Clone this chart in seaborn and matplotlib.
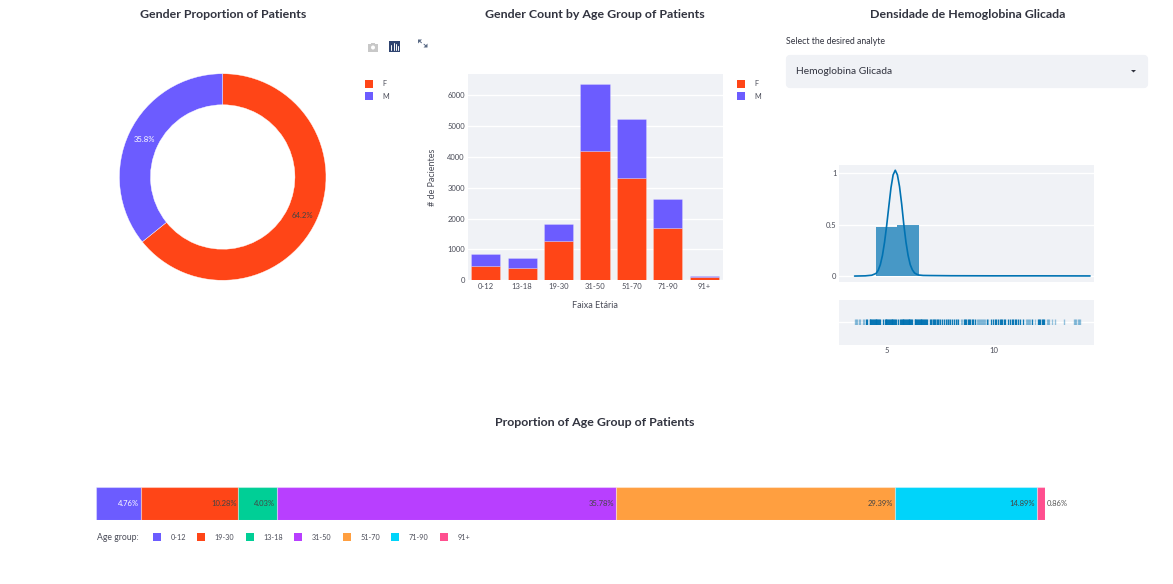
import pandas as pd
import matplotlib.pyplot as plt
from matplotlib.patches import FancyBboxPatch, Rectangle, Circle, Polygon
import seaborn as sns

# gender donut
genders = ['F', 'M']
gender_share = [64.2, 35.8]

# gender count per age group
age_groups = ['0-12', '13-18', '19-30', '31-50', '51-70', '71-90', '91+']
female_counts = [450, 390, 1280, 4190, 3305, 1685, 100]
male_counts = [400, 335, 545, 2170, 1920, 965, 50]
bar_yticks = [0, 1000, 2000, 3000, 4000, 5000, 6000]

# age group proportion
prop_groups = ['0-12', '19-30', '13-18', '31-50', '51-70', '71-90', '91+']
prop_values = [4.76, 10.28, 4.03, 35.78, 29.39, 14.89, 0.86]
prop_colors = ['#6C5CFF', '#FF4517', '#00CF96', '#B83FFF', '#FF9F40', '#00D4FA', '#FF4F8F']

# hemoglobin density
hist_edges = [3.5, 4.5, 5.5, 6.5, 7.5, 8.5, 9.5, 10.5, 11.5, 12.5, 13.5, 14.5]
hist_centers = [4, 5, 6, 7, 8, 9, 10, 11, 12, 13, 14]
hist_heights = [0.004, 0.482, 0.493, 0.012, 0.008, 0.002, 0.002, 0.002, 0.004, 0.004, 0.001]
kde_x = [3.5, 4.0, 4.3, 4.5, 4.6, 4.7, 4.8, 4.9, 5.0, 5.1, 5.2, 5.3, 5.4, 5.5, 5.6,
         5.7, 5.8, 5.9, 6.0, 6.1, 6.2, 6.3, 6.4, 6.5, 6.7, 7.0, 8.0, 10.0, 12.0, 14.5]
kde_y = [0.0, 0.002, 0.008, 0.025, 0.055, 0.11, 0.2, 0.33, 0.495, 0.68, 0.86, 0.985, 1.03, 0.985, 0.87,
         0.7, 0.5, 0.33, 0.2, 0.11, 0.06, 0.03, 0.018, 0.01, 0.006, 0.005, 0.003, 0.002, 0.002, 0.001]
rug_light = [3.5, 3.55, 3.6, 3.7, 3.75, 3.9, 3.95, 7.1, 7.3, 7.45, 7.8, 7.9, 8.3, 8.45, 8.5,
             9.2, 9.25, 9.3, 9.35, 9.4, 9.45, 9.5, 9.55, 9.6, 9.75, 11.5, 11.55, 11.6, 11.65, 11.7, 11.93,
             12.5, 12.55, 12.6, 12.72, 12.85, 13.3, 13.76, 13.8, 13.85, 13.95, 14.0, 14.05]
rug_dark = [4.03, 4.1, 4.2, 4.24, 4.28, 4.32, 4.36, 4.4, 4.44, 4.48, 4.52, 4.56, 4.6, 4.64, 4.7,
            4.83, 4.91, 4.95, 4.99, 5.03, 5.07, 5.11, 5.15, 5.19, 5.23, 5.27, 5.31, 5.35, 5.39, 5.44,
            5.52, 5.62, 5.66, 5.7, 5.74, 5.78, 5.82, 5.86, 5.9, 5.94, 5.98, 6.02, 6.06, 6.1, 6.14, 6.18,
            6.3, 6.34, 6.38, 6.42, 6.46, 6.5, 6.54, 6.58, 6.62, 6.66, 6.7, 6.74, 6.78, 6.82, 6.9,
            7.0, 7.05, 7.15, 7.2, 7.25, 7.35, 7.4, 7.5, 7.6, 7.67, 7.77, 7.85, 7.95, 8.05, 8.15, 8.25, 8.35,
            8.6, 8.66, 8.72, 8.78, 8.84, 8.9, 8.97, 9.03, 9.12, 9.7, 9.85, 9.95, 10.05, 10.1, 10.2, 10.3, 10.35,
            10.4, 10.5, 10.55, 10.65, 10.75, 10.85, 10.9, 11.0, 11.05, 11.13, 11.25, 11.35, 11.8,
            12.07, 12.12, 12.17, 12.25, 12.3, 12.35]
rug_ticks = [5, 10]
density_yticks = [0, 0.5, 1]
density_ylabels = ['0', '0.5', '1']

F_COLOR = '#FF4517'
M_COLOR = '#6C5CFF'
PANEL = '#F0F2F6'
TITLE_C = '#31333F'
TEXT_C = '#4A4C58'
BLUE = '#0072B2'

sns.set_theme(style='white')
plt.rcParams['font.family'] = ['Lato', 'DejaVu Sans']

W, H = 1173, 584
fig = plt.figure(figsize=(W / 100, H / 100), dpi=100)


def px_axes(left, top, right, bottom):
    # axes placed by pixel box of the reference
    return fig.add_axes([left / W, 1 - bottom / H, (right - left) / W, (bottom - top) / H])


def style_panel(ax):
    ax.set_facecolor(PANEL)
    sns.despine(ax=ax, left=True, bottom=True, right=True, top=True)
    ax.grid(True, axis='y', color='white', linewidth=1)
    ax.set_axisbelow(True)
    ax.tick_params(length=0, labelsize=5.5, labelcolor=TEXT_C, pad=2)


# overlay in pixel coordinates for titles, legends and the widgets
ov = fig.add_axes([0, 0, 1, 1], zorder=10)
ov.set_xlim(0, W)
ov.set_ylim(H, 0)
ov.axis('off')

for cx, cy, txt in [(223, 14, 'Gender Proportion of Patients'),
                    (595, 14, 'Gender Count by Age Group of Patients'),
                    (968, 14, 'Densidade de Hemoglobina Glicada'),
                    (595, 423, 'Proportion of Age Group of Patients')]:
    ov.text(cx, cy, txt, ha='center', va='center', fontsize=8.95, fontweight='bold', color=TITLE_C)

# donut
ax_pie = px_axes(119.4, 73.7, 326, 280.3)
ax_pie.pie(gender_share, colors=[F_COLOR, M_COLOR], startangle=90, counterclock=False, radius=1,
           wedgeprops=dict(width=0.301, edgecolor='white', linewidth=0.3))
ax_pie.set_xlim(-1, 1)
ax_pie.set_ylim(-1, 1)
ov.text(302, 215.5, '64.2%', ha='center', va='center', fontsize=5.6, color='#444444')
ov.text(144, 139.5, '35.8%', ha='center', va='center', fontsize=5.6, color='white')

# stacked bars
ax_bar = px_axes(467.5, 74, 722.5, 280.3)
bar_df = pd.DataFrame({
    'age': age_groups * 2,
    'gender': ['F'] * len(age_groups) + ['M'] * len(age_groups),
    'count': female_counts + male_counts,
})
sns.histplot(data=bar_df, x='age', weights='count', hue='gender', hue_order=['M', 'F'],
             palette={'F': F_COLOR, 'M': M_COLOR}, multiple='stack', discrete=True, shrink=0.8,
             alpha=1, edgecolor=(1, 1, 1, 0.25), linewidth=0.6, legend=False, ax=ax_bar)
style_panel(ax_bar)
ax_bar.set_xlim(-0.5, 6.5)
ax_bar.set_ylim(0, 6690)
ax_bar.set_yticks(bar_yticks)
ax_bar.set_xlabel('Faixa Etária', fontsize=6.5, color=TEXT_C, labelpad=8)
ax_bar.set_ylabel('# de Pacientes', fontsize=6.5, color=TEXT_C, labelpad=7)

# the two gender legends
for x0 in (365, 737):
    for y0, name, col in [(79.5, 'F', F_COLOR), (92, 'M', M_COLOR)]:
        ov.add_patch(Rectangle((x0, y0), 8, 8, facecolor=col, edgecolor='none'))
        ov.text(x0 + 17, y0 + 4.2, name, ha='left', va='center', fontsize=5.2, color=TEXT_C)

# toolbar icons over the bar chart
ov.add_patch(Rectangle((368, 44), 10, 7.5, facecolor='#C8C8C8', edgecolor='none'))
ov.add_patch(Rectangle((371, 42.5), 4, 2, facecolor='#C8C8C8', edgecolor='none'))
ov.add_patch(Circle((373, 47.5), 2, facecolor='white', edgecolor='none'))
ov.add_patch(Rectangle((389, 41), 11, 10.5, facecolor='#2F4470', edgecolor='none'))
for bx, btop in [(391, 45), (393.5, 43), (396, 44), (398, 45.5)]:
    ov.plot([bx, bx], [btop, 50], color='white', linewidth=0.7)
ov.add_patch(Polygon([[418, 39.5], [422, 39.5], [418, 43.5]], facecolor='#5A6A85', edgecolor='none'))
ov.add_patch(Polygon([[427.5, 47.5], [423.5, 47.5], [427.5, 43.5]], facecolor='#5A6A85', edgecolor='none'))
ov.plot([419.5, 421.5], [41, 42.8], color='#5A6A85', linewidth=0.7)
ov.plot([424, 426], [44.2, 46], color='#5A6A85', linewidth=0.7)

# select box
ov.text(786, 42, 'Select the desired analyte', ha='left', va='center', fontsize=6.3, color=TITLE_C)
ov.add_patch(FancyBboxPatch((788, 57), 358, 29, boxstyle='round,pad=0,rounding_size=2',
                            mutation_aspect=1, facecolor=PANEL, edgecolor=PANEL, linewidth=3))
ov.text(796, 71.5, 'Hemoglobina Glicada', ha='left', va='center', fontsize=7.4, color=TITLE_C)
ov.add_patch(Polygon([[1131, 70], [1136, 70], [1133.5, 72.5]], facecolor=TITLE_C, edgecolor='none'))

# density panel
ax_den = px_axes(839.3, 164.7, 1094.3, 281.7)
sns.histplot(x=hist_centers, weights=hist_heights, bins=hist_edges, color=BLUE, alpha=0.7,
             edgecolor='none', linewidth=0, ax=ax_den)
sns.lineplot(x=kde_x, y=kde_y, sort=False, color=BLUE, linewidth=1.2, ax=ax_den)
style_panel(ax_den)
ax_den.set_xlim(2.785, 14.70)
ax_den.set_ylim(-0.055, 1.084)
ax_den.set_yticks(density_yticks)
ax_den.set_yticklabels(density_ylabels)
ax_den.set_xticks([])
ax_den.set_xlabel('')
ax_den.set_ylabel('')

# rug panel, marks sit on a thin axes in the middle of it
ax_rug = px_axes(839.3, 299.7, 1094.3, 344.7)
style_panel(ax_rug)
ax_rug.set_xlim(2.785, 14.70)
ax_rug.set_ylim(0, 1)
ax_rug.set_yticks([0.5])
ax_rug.set_yticklabels([])
ax_rug.set_xticks(rug_ticks)
ax_rug.tick_params(axis='x', pad=2)

ax_marks = px_axes(839.3, 318.7, 1094.3, 325)
ax_marks.patch.set_alpha(0)
ax_marks.axis('off')
sns.rugplot(x=rug_light, height=1, color=BLUE, alpha=0.4, linewidth=1.0, expand_margins=False, ax=ax_marks)
sns.rugplot(x=rug_dark, height=1, color=BLUE, alpha=0.95, linewidth=1.0, expand_margins=False, ax=ax_marks)
ax_marks.set_xlim(2.785, 14.70)
ax_marks.set_ylim(0, 1)

# proportion bar
ax_prop = px_axes(95.5, 487, 1045, 519.5)
prop_df = pd.DataFrame({'row': [0] * len(prop_groups), 'group': prop_groups, 'pct': prop_values})
sns.histplot(data=prop_df, y='row', weights='pct', hue='group', hue_order=prop_groups[::-1],
             palette=dict(zip(prop_groups, prop_colors)), multiple='stack', discrete=True,
             alpha=1, edgecolor=(1, 1, 1, 0.35), linewidth=0.8, legend=False, ax=ax_prop)
ax_prop.set_xlim(0, 100)
ax_prop.set_ylim(-0.5, 0.5)
ax_prop.axis('off')

running = 0
for i, (val, col) in enumerate(zip(prop_values, prop_colors)):
    running += val
    label = f'{val:.2f}%'
    if i == len(prop_values) - 1:
        ax_prop.text(running + 0.15, 0, label, ha='left', va='center', fontsize=5.5, color='#555555')
    else:
        ax_prop.text(running - 0.2, 0, label, ha='right', va='center', fontsize=5.5,
                     color='white' if i == 0 else '#444444')

# age group legend
ov.text(97, 537, 'Age group:', ha='left', va='center', fontsize=6.2, color=TEXT_C)
swatch_x = [153, 197.3, 246, 294.3, 342.7, 391.3, 439.7]
for x0, name, col in zip(swatch_x, prop_groups, prop_colors):
    ov.add_patch(Rectangle((x0, 533), 8, 8, facecolor=col, edgecolor='none'))
    ov.text(x0 + 17.5, 537.3, name, ha='left', va='center', fontsize=5.2, color=TEXT_C)

fig.savefig('out.png', dpi=100, facecolor='white')
